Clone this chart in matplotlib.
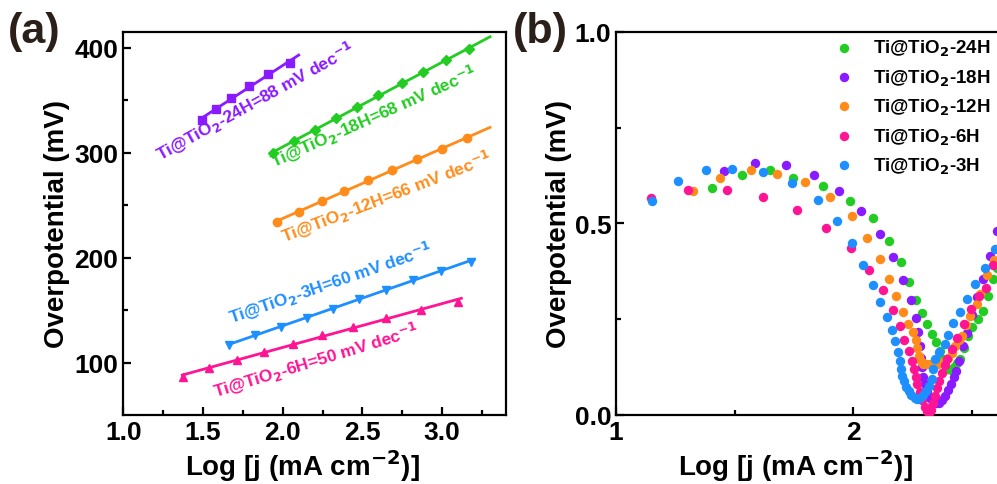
import numpy as np
import matplotlib
matplotlib.use('Agg')
import matplotlib.pyplot as plt

plt.rcParams['font.family'] = 'Liberation Sans'
plt.rcParams['font.weight'] = 'bold'
plt.rcParams['mathtext.fontset'] = 'custom'
plt.rcParams['mathtext.rm'] = 'Liberation Sans:bold'
plt.rcParams['mathtext.bf'] = 'Liberation Sans:bold'
plt.rcParams['mathtext.default'] = 'rm'

# colours per sample
c24 = '#22cc22'
c18 = '#8a1aff'
c12 = '#ff8c1a'
c6 = '#ff1493'
c3 = '#1e8fff'

# ---- panel (a): Tafel plots ----
x24 = [1.495, 1.579, 1.673, 1.788, 1.905, 2.045]
y24 = [331.1, 341.9, 352.4, 363.4, 374.6, 385.7]
x18 = [1.940, 2.070, 2.202, 2.334, 2.467, 2.599, 2.745, 2.881, 3.023, 3.169]
y18 = [300.0, 311.1, 321.6, 332.7, 343.8, 354.6, 366.0, 376.8, 387.9, 399.0]
x12 = [1.962, 2.102, 2.244, 2.386, 2.532, 2.687, 2.839, 2.996, 3.153]
y12 = [233.9, 243.8, 253.9, 263.4, 273.6, 283.8, 293.7, 303.1, 313.6]
x3 = [1.665, 1.826, 1.987, 2.150, 2.313, 2.478, 2.645, 2.818, 2.990, 3.178]
y3 = [116.8, 126.0, 134.3, 142.9, 151.4, 160.9, 169.5, 178.7, 187.3, 196.2]
x6 = [1.372, 1.537, 1.711, 1.884, 2.066, 2.248, 2.442, 2.645, 2.865, 3.101]
y6 = [86.3, 94.3, 102.2, 110.5, 118.1, 126.3, 133.9, 142.2, 150.1, 158.1]
# x range of each fitted line
fit24 = [1.49, 2.10]
fit18 = [1.94, 3.30]
fit12 = [1.96, 3.30]
fit3 = [1.66, 3.20]
fit6 = [1.37, 3.12]

labels_a = [r'Ti@TiO$_{\mathsf{2}}$-24H=88 mV dec$^{\mathsf{-1}}$',
            r'Ti@TiO$_{\mathsf{2}}$-18H=68 mV dec$^{\mathsf{-1}}$',
            r'Ti@TiO$_{\mathsf{2}}$-12H=66 mV dec$^{\mathsf{-1}}$',
            r'Ti@TiO$_{\mathsf{2}}$-3H=60 mV dec$^{\mathsf{-1}}$',
            r'Ti@TiO$_{\mathsf{2}}$-6H=50 mV dec$^{\mathsf{-1}}$']

# ---- panel (b): scattered points ----
bx24 = [1.406, 1.530, 1.650, 1.745, 1.874, 1.986, 2.083, 2.150, 2.200, 2.236, 2.263, 2.288,
        2.309, 2.330, 2.348, 2.365, 2.378, 2.394, 2.410, 2.425, 2.438, 2.450, 2.468, 2.485,
        2.500, 2.525, 2.548, 2.569, 2.590, 2.605]
by24 = [0.593, 0.627, 0.640, 0.618, 0.597, 0.560, 0.514, 0.455, 0.399, 0.346, 0.300, 0.266,
        0.238, 0.211, 0.190, 0.168, 0.145, 0.120, 0.118, 0.125, 0.135, 0.146, 0.175, 0.205,
        0.230, 0.250, 0.272, 0.311, 0.355, 0.385]
bx18 = [1.455, 1.584, 1.715, 1.833, 1.941, 2.034, 2.111, 2.169, 2.208, 2.242, 2.263, 2.274,
        2.280, 2.284, 2.288, 2.293, 2.300, 2.310, 2.322, 2.335, 2.348, 2.360, 2.372, 2.385,
        2.398, 2.410, 2.422, 2.432, 2.445, 2.464, 2.480, 2.500, 2.520, 2.545, 2.576, 2.604]
by18 = [0.636, 0.657, 0.652, 0.626, 0.586, 0.532, 0.473, 0.412, 0.352, 0.300, 0.253, 0.216,
        0.180, 0.150, 0.125, 0.100, 0.080, 0.060, 0.045, 0.035, 0.030, 0.030, 0.038, 0.050,
        0.065, 0.080, 0.098, 0.115, 0.140, 0.181, 0.215, 0.260, 0.307, 0.355, 0.416, 0.481]
bx12 = [1.323, 1.438, 1.570, 1.680, 1.798, 1.902, 1.995, 2.059, 2.114, 2.152, 2.180, 2.208,
        2.232, 2.253, 2.262, 2.270, 2.278, 2.285, 2.295, 2.310, 2.325, 2.340, 2.355, 2.370,
        2.385, 2.400, 2.415, 2.430, 2.445, 2.457, 2.475, 2.492, 2.520, 2.534, 2.565, 2.594]
by12 = [0.584, 0.618, 0.640, 0.630, 0.608, 0.568, 0.520, 0.461, 0.406, 0.354, 0.311, 0.270,
        0.238, 0.216, 0.195, 0.175, 0.155, 0.140, 0.133, 0.132, 0.133, 0.133, 0.134, 0.136,
        0.140, 0.150, 0.163, 0.180, 0.195, 0.207, 0.235, 0.259, 0.290, 0.316, 0.366, 0.405]
bx6 = [1.147, 1.305, 1.469, 1.621, 1.763, 1.886, 1.989, 2.067, 2.127, 2.166, 2.196, 2.214,
       2.235, 2.248, 2.255, 2.262, 2.270, 2.280, 2.290, 2.300, 2.310, 2.318, 2.326, 2.335,
       2.344, 2.352, 2.362, 2.372, 2.385, 2.394, 2.415, 2.436, 2.466, 2.495, 2.530, 2.560, 2.587]
by6 = [0.566, 0.587, 0.587, 0.569, 0.535, 0.488, 0.435, 0.379, 0.326, 0.275, 0.232, 0.196,
       0.166, 0.140, 0.120, 0.100, 0.080, 0.060, 0.040, 0.022, 0.010, 0.005, 0.012, 0.030,
       0.050, 0.070, 0.090, 0.110, 0.130, 0.146, 0.172, 0.200, 0.238, 0.278, 0.310, 0.331, 0.392]
bx3 = [1.150, 1.260, 1.379, 1.490, 1.618, 1.742, 1.853, 1.931, 1.995, 2.042, 2.082, 2.114,
       2.141, 2.162, 2.177, 2.190, 2.197, 2.200, 2.205, 2.212, 2.222, 2.233, 2.245, 2.258,
       2.270, 2.282, 2.295, 2.305, 2.320, 2.330, 2.337, 2.345, 2.360, 2.386, 2.400, 2.420,
       2.450, 2.478, 2.513, 2.555, 2.597]
by3 = [0.560, 0.610, 0.640, 0.643, 0.635, 0.605, 0.561, 0.506, 0.450, 0.392, 0.340, 0.295,
       0.256, 0.223, 0.194, 0.165, 0.140, 0.120, 0.103, 0.088, 0.073, 0.062, 0.052, 0.045,
       0.042, 0.045, 0.052, 0.062, 0.075, 0.095, 0.120, 0.145, 0.165, 0.185, 0.210, 0.240,
       0.268, 0.303, 0.342, 0.384, 0.433]
legend_b = [r'Ti@TiO$_{\mathsf{2}}$-24H', r'Ti@TiO$_{\mathsf{2}}$-18H', r'Ti@TiO$_{\mathsf{2}}$-12H',
            r'Ti@TiO$_{\mathsf{2}}$-6H', r'Ti@TiO$_{\mathsf{2}}$-3H']

fig = plt.figure(figsize=(9.97, 4.85), dpi=100)
axa = fig.add_axes([0.1237, 0.1423, 0.3838, 0.7897])
axb = fig.add_axes([0.6179, 0.1423, 0.3856, 0.7897])

series_a = [(x24, y24, fit24, c18, 's'), (x18, y18, fit18, c24, 'D'),
            (x12, y12, fit12, c12, 'o'), (x3, y3, fit3, c3, 'v'), (x6, y6, fit6, c6, '^')]
for xs, ys, fr, col, mk in series_a:
    axa.plot(xs, ys, ls='none', marker=mk, ms=6 if mk != 'D' else 5, color=col)
    k, b = np.polyfit(xs, ys, 1)
    xf = np.array(fr)
    axa.plot(xf, k * xf + b, color=col, lw=2)

# rotated labels on panel (a)
ann = [(1.83, 349, 29, c18), (2.57, 335, 24, c24), (2.65, 258, 21, c12),
       (2.30, 176, 19, c3), (2.21, 102, 17, c6)]
for (tx, ty, rot, col), lab in zip(ann, labels_a):
    axa.text(tx, ty, lab, color=col, fontsize=12.5, fontweight='bold', rotation=rot,
             rotation_mode='anchor', ha='center', va='center')

axa.set_xlim(1.0, 3.4)
axa.set_ylim(50, 415)
axa.set_xticks([1.0, 1.5, 2.0, 2.5, 3.0])
axa.set_xticks([1.25, 1.75, 2.25, 2.75, 3.25], minor=True)
axa.set_yticks([100, 200, 300, 400])
axa.set_yticks([150, 250, 350], minor=True)
axa.set_xlabel(r'Log [j (mA cm$^{\mathsf{-2}}$)]', fontsize=20, fontweight='bold')
axa.set_ylabel('Overpotential (mV)', fontsize=20, fontweight='bold', labelpad=3)
axa.xaxis.set_label_coords(0.467, -0.085)

for xs, ys, col, lab in [(bx24, by24, c24, legend_b[0]), (bx18, by18, c18, legend_b[1]),
                         (bx12, by12, c12, legend_b[2]), (bx6, by6, c6, legend_b[3]),
                         (bx3, by3, c3, legend_b[4])]:
    axb.scatter(xs, ys, s=46, color=col, label=lab, lw=0, zorder=3)
axb.set_xlim(1.0, 2.62)
axb.set_ylim(0, 1.0)
axb.set_xticks([1, 2])
axb.set_xticks([1.5, 2.5], minor=True)
axb.set_yticks([0.0, 0.5, 1.0])
axb.set_yticks([0.25, 0.75], minor=True)
axb.set_xlabel(r'Log [j (mA cm$^{\mathsf{-2}}$)]', fontsize=20, fontweight='bold')
axb.set_ylabel('Overpotential (mV)', fontsize=20, fontweight='bold', labelpad=2)
axb.xaxis.set_label_coords(0.466, -0.085)
axb.legend(loc='upper left', bbox_to_anchor=(0.515, 1.015), frameon=False, fontsize=13.5,
           handletextpad=0.55, labelspacing=0.5, markerscale=1.0, borderaxespad=0.2)
axb.spines['right'].set_visible(False)

for ax in (axa, axb):
    for sp in ax.spines.values():
        sp.set_linewidth(1.6)
    ax.tick_params(which='both', direction='in', top=False, right=False, width=1.6, labelsize=19)
    ax.tick_params(which='major', length=6)
    ax.tick_params(which='minor', length=3.5)
    for t in ax.get_xticklabels() + ax.get_yticklabels():
        t.set_fontweight('bold')

fig.text(0.008, 0.975, '(a)', fontsize=31, fontweight='bold', color='#2b2019', va='top')
fig.text(0.514, 0.975, '(b)', fontsize=31, fontweight='bold', color='#2b2019', va='top')

fig.savefig('out.png', dpi=100)
